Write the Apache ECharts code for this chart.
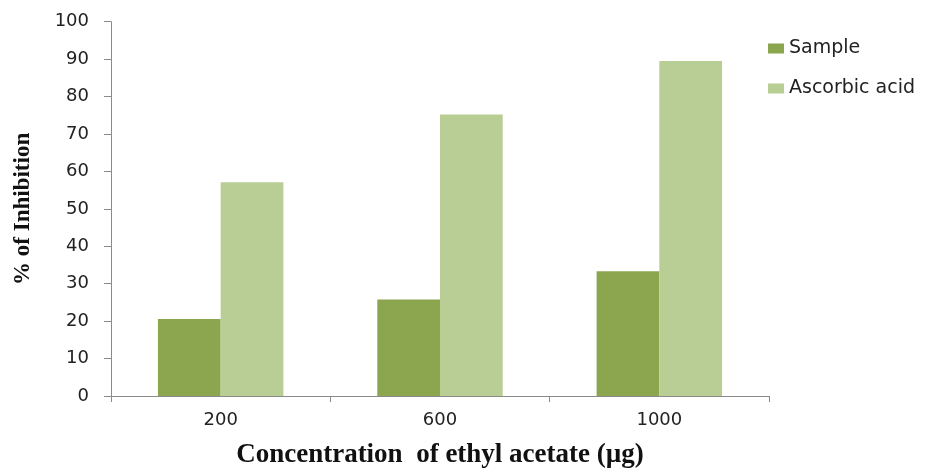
<!DOCTYPE html>
<html>
<head>
<meta charset="utf-8">
<script src="https://cdn.jsdelivr.net/npm/echarts@6/dist/echarts.min.js"></script>
<style>html,body{margin:0;padding:0;background:#fff;}#c{width:928px;height:474px;}</style>
</head>
<body>
<div id="c"></div>
<script>
const categories = ['200', '600', '1000'];
const sampleValues = [20.6, 25.8, 33.3];
const ascorbicValues = [57.1, 75.2, 89.5];
const seriesNames = ['Sample', 'Ascorbic acid'];
const xTitle = 'Concentration  of ethyl acetate (µg)';
const yTitle = '% of Inhibition';

const chart = echarts.init(document.getElementById('c'), null, {renderer: 'canvas'});
const labelFont = 'DejaVu Sans';
chart.setOption({
  animation: false,
  backgroundColor: '#ffffff',
  grid: {left: 111, right: 159, top: 21.7, bottom: 71.3, containLabel: false},
  legend: {
    orient: 'vertical', left: 763, top: 34,
    itemWidth: 16, itemHeight: 10, itemGap: 21, icon: 'rect',
    textStyle: {fontFamily: labelFont, fontSize: 19, color: '#222'},
    data: seriesNames
  },
  xAxis: {
    type: 'category', data: categories,
    axisLine: {lineStyle: {color: '#8a8a8a', width: 1}},
    axisTick: {show: true, length: 6, lineStyle: {color: '#8a8a8a'}},
    axisLabel: {fontFamily: labelFont, fontSize: 18, color: '#222', margin: 15},
    name: xTitle, nameLocation: 'middle', nameGap: 46,
    nameTextStyle: {fontFamily: 'Liberation Serif', fontWeight: 'bold', fontSize: 27, color: '#111'}
  },
  yAxis: {
    type: 'value', min: 0, max: 100, interval: 10,
    splitLine: {show: false},
    axisLine: {show: true, lineStyle: {color: '#8a8a8a', width: 1}},
    axisTick: {show: true, length: 7, lineStyle: {color: '#8a8a8a'}},
    axisLabel: {fontFamily: labelFont, fontSize: 18, color: '#222', margin: 22},
    name: yTitle, nameLocation: 'middle', nameGap: 76, nameRotate: 90,
    nameTextStyle: {fontFamily: 'Liberation Serif', fontWeight: 'bold', fontSize: 23, color: '#111'}
  },
  series: [
    {name: seriesNames[0], type: 'bar', data: sampleValues, barWidth: '28.6%', barGap: '0%',
     itemStyle: {color: '#8ba64f'}},
    {name: seriesNames[1], type: 'bar', data: ascorbicValues, barWidth: '28.6%', barGap: '0%',
     itemStyle: {color: '#b9ce95'}}
  ]
});
</script>
</body>
</html>
